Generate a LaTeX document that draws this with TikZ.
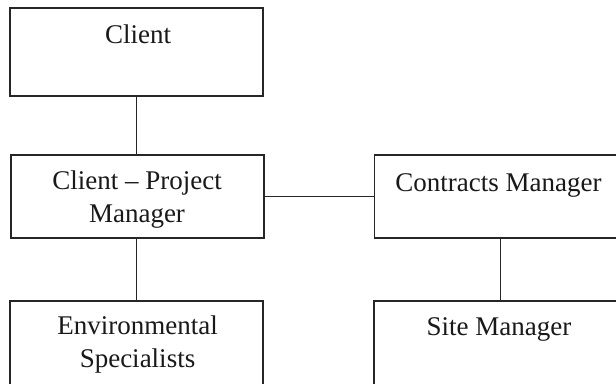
\documentclass[tikz,border=0pt]{standalone}
\usepackage{fontspec}
\setmainfont{Liberation Serif}
\begin{document}
\begin{tikzpicture}[x=1pt,y=-1pt,
  box/.style={draw=black!85,line width=1.6pt,fill=white,minimum width=253pt,minimum height=#1,inner sep=0pt,outer sep=0pt},
  box/.default=88pt,
  lbl/.style={anchor=base,align=center,inner sep=0pt,font=\fontsize{27}{33}\selectfont,text=black!90},
  conn/.style={draw=black!85,line width=1.6pt}]
\useasboundingbox (0,0) rectangle (616,383);
\clip (0,0) rectangle (616,383);
\fill[white] (0,0) rectangle (616,383);
% boxes
\node[box] (client) at (136.5,52) {};
\node[box=83pt] (cpm) at (137.5,196.5) {};
\node[box=83pt] (contracts) at (501,196.5) {};
\node[box] (env) at (136.5,345) {};
\node[box] (site) at (500.5,345) {};
% connectors
\draw[conn] (client.south) -- (client.south |- cpm.north);
\draw[conn] (cpm.east) -- (contracts.west);
\draw[conn] (cpm.south -| client.south) -- (client.south |- env.north);
\draw[conn] (contracts.south -| site.north) -- (site.north);
% texts (base anchor = last line's baseline)
\node[lbl] (tclient) at ([yshift=-35pt]client.north -| 138,0) {Client};
\node[lbl] (tcpm) at ([yshift=-67pt]cpm.north -| 137,0) {Client – Project\\Manager};
\node[lbl] (tcontracts) at ([yshift=-36pt]contracts.north -| 498.5,0) {Contracts Manager};
\node[lbl] (tenv) at ([yshift=-66pt]env.north -| 137.5,0) {Environmental\\Specialists};
\node[lbl] (tsite) at ([yshift=-34pt]site.north -| 499,0) {Site Manager};
\end{tikzpicture}
\end{document}
